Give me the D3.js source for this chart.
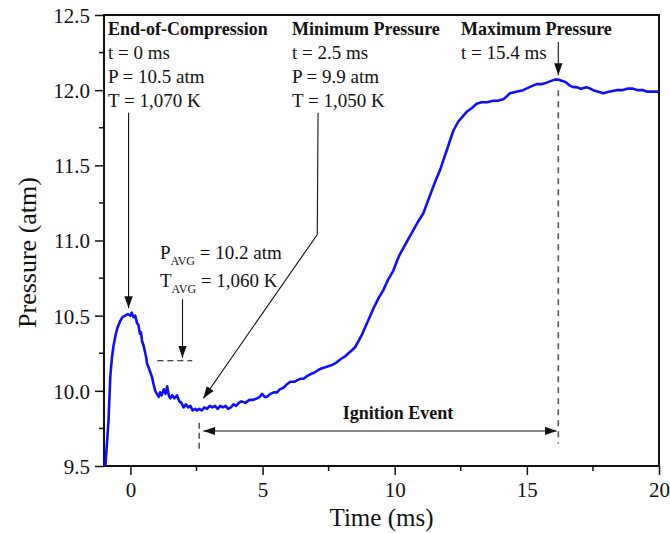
<!DOCTYPE html>
<html>
<head>
<meta charset="utf-8">
<script src="https://cdn.jsdelivr.net/npm/d3@7"></script>
<style>
  body { margin: 0; background: #fff; }
  text { font-family: "Liberation Serif", "Times New Roman", serif; fill: #111; }
</style>
</head>
<body>
<script>
// pressure trace
var time = [-0.95, -0.9, -0.83, -0.76, -0.7, -0.64, -0.55, -0.49, -0.4, -0.3, -0.2, -0.1, 0.0, 0.05, 0.12, 0.18,
  0.25, 0.3, 0.36, 0.4, 0.44, 0.5, 0.55, 0.6, 0.63, 0.7, 0.76, 0.82, 0.88, 0.94, 1.0, 1.07, 1.12, 1.18, 1.26, 1.33,
  1.39, 1.45, 1.51, 1.58, 1.66, 1.76, 1.85, 1.93, 2.01, 2.1, 2.18, 2.27, 2.35, 2.45, 2.52, 2.6, 2.7, 2.8, 2.9, 3.0,
  3.1, 3.2, 3.3, 3.4, 3.5, 3.6, 3.7, 3.8, 3.9, 4.0, 4.1, 4.2, 4.35, 4.5, 4.65, 4.79, 4.9, 4.98, 5.08, 5.17, 5.3,
  5.42, 5.55, 5.65, 5.79, 5.9, 6.05, 6.2, 6.3, 6.42, 6.55, 6.7, 6.8, 6.95, 7.12, 7.25, 7.43, 7.6, 7.81, 7.95, 8.13,
  8.25, 8.38, 8.5, 8.63, 8.75, 8.85, 9.0, 9.2, 9.4, 9.57, 9.75, 9.95, 10.1, 10.2, 10.45, 10.71, 10.9, 11.08, 11.25,
  11.4, 11.55, 11.72, 11.85, 11.97, 12.1, 12.22, 12.4, 12.6, 12.75, 12.91, 13.1, 13.29, 13.5, 13.73, 13.9, 14.11,
  14.25, 14.36, 14.6, 14.86, 15.1, 15.37, 15.55, 15.75, 15.9, 16.06, 16.2, 16.38, 16.5, 16.63, 16.75, 16.88, 17.05,
  17.26, 17.4, 17.51, 17.7, 17.89, 18.1, 18.39, 18.6, 18.8, 19.02, 19.2, 19.4, 19.55, 19.65, 19.8, 20.0];
var pressure = [9.49, 9.62, 9.80, 10.10, 10.22, 10.30, 10.38, 10.42, 10.46, 10.49, 10.50, 10.51, 10.50, 10.52, 10.49, 10.50,
  10.45, 10.44, 10.38, 10.39, 10.33, 10.30, 10.26, 10.22, 10.18, 10.15, 10.12, 10.09, 10.04, 10.00, 9.98, 9.96, 9.99, 9.97, 10.01, 9.98,
  10.03, 9.97, 9.95, 9.97, 9.95, 9.97, 9.93, 9.92, 9.89, 9.91, 9.89, 9.90, 9.87, 9.88, 9.87, 9.88, 9.87, 9.89, 9.88, 9.90,
  9.89, 9.90, 9.88, 9.90, 9.89, 9.90, 9.88, 9.89, 9.91, 9.90, 9.92, 9.93, 9.92, 9.94, 9.94, 9.95, 9.96, 9.98, 9.96, 9.96, 9.98,
  9.99, 9.99, 10.01, 10.02, 10.04, 10.06, 10.06, 10.07, 10.08, 10.08, 10.10, 10.11, 10.12, 10.14, 10.15, 10.16, 10.17, 10.19, 10.21, 10.23,
  10.25, 10.27, 10.29, 10.33, 10.37, 10.41, 10.47, 10.55, 10.62, 10.67, 10.74, 10.80, 10.87, 10.91, 10.99, 11.07, 11.13, 11.18, 11.26,
  11.33, 11.40, 11.47, 11.54, 11.60, 11.67, 11.73, 11.79, 11.83, 11.86, 11.88, 11.91, 11.92, 11.92, 11.93, 11.93, 11.94,
  11.96, 11.98, 11.99, 12.00, 12.02, 12.04, 12.04, 12.05, 12.06, 12.07, 12.07, 12.06, 12.05, 12.03, 12.02, 12.02, 12.01,
  12.02, 12.01, 12.00, 11.99, 11.98, 11.99, 12.00, 12.00, 12.01, 12.01, 12.00, 12.00, 11.99, 11.99, 11.99, 11.99];

var xTicks = [0, 5, 10, 15, 20];
var xMinor = [2.5, 7.5, 12.5, 17.5];
var yTicks = [9.5, 10.0, 10.5, 11.0, 11.5, 12.0, 12.5];
var yMinor = [9.75, 10.25, 10.75, 11.25, 11.75, 12.25];

var eocLines = ["t = 0 ms", "P = 10.5 atm", "T = 1,070 K"];
var minLines = ["t = 2.5 ms", "P = 9.9 atm", "T = 1,050 K"];
var maxLines = ["t = 15.4 ms"];

var width = 670, height = 533;
var margin = { top: 15, right: 11, bottom: 67, left: 104 };

var svg = d3.select("body")
    .append("svg")
    .attr("width", width)
    .attr("height", height);

var x = d3.scaleLinear().domain([-1, 20]).range([margin.left, width - margin.right]);
var y = d3.scaleLinear().domain([9.5, 12.5]).range([height - margin.bottom, margin.top]);

svg.append("defs").append("marker")
    .attr("id", "head")
    .attr("viewBox", "0 0 10 10")
    .attr("refX", 10).attr("refY", 5)
    .attr("markerWidth", 12).attr("markerHeight", 12)
    .attr("markerUnits", "userSpaceOnUse")
    .attr("orient", "auto-start-reverse")
    .append("path")
    .attr("d", "M0,1.5 L10,5 L0,8.5 Z")
    .attr("fill", "#111");

// axes
var xAxis = svg.append("g")
    .attr("transform", "translate(0," + y(9.5) + ")")
    .call(d3.axisBottom(x).tickValues(xTicks).tickFormat(d3.format("d")).tickSize(9).tickSizeOuter(0));
xAxis.append("g").selectAll("line")
    .data(xMinor)
    .enter().append("line")
    .attr("x1", function (d) { return x(d); }).attr("x2", function (d) { return x(d); })
    .attr("y1", 0).attr("y2", 5)
    .attr("stroke", "#111").attr("stroke-width", 1.5);

var yAxis = svg.append("g")
    .attr("transform", "translate(" + x(-1) + ",0)")
    .call(d3.axisLeft(y).tickValues(yTicks).tickFormat(d3.format(".1f")).tickSize(9).tickSizeOuter(0));
yAxis.append("g").selectAll("line")
    .data(yMinor)
    .enter().append("line")
    .attr("y1", function (d) { return y(d); }).attr("y2", function (d) { return y(d); })
    .attr("x1", 0).attr("x2", -5)
    .attr("stroke", "#111").attr("stroke-width", 1.5);

[xAxis, yAxis].forEach(function (a) {
    a.select(".domain").remove();
    a.selectAll(".tick line").attr("stroke", "#111").attr("stroke-width", 1.5);
    a.selectAll(".tick text").style("font-size", "21px").style("font-family", "Liberation Serif").attr("fill", "#111");
});
xAxis.selectAll(".tick text").attr("y", 16).attr("dy", "0.71em");
yAxis.selectAll(".tick text").attr("x", -14).attr("dy", "0.35em");

// frame
svg.append("rect")
    .attr("x", x(-1)).attr("y", y(12.5))
    .attr("width", x(20) - x(-1)).attr("height", y(9.5) - y(12.5))
    .attr("fill", "none").attr("stroke", "#111").attr("stroke-width", 2);

// axis titles
svg.append("text")
    .attr("x", (x(-1) + x(20)) / 2).attr("y", 526)
    .attr("text-anchor", "middle")
    .style("font-size", "25px")
    .text("Time (ms)");
svg.append("text")
    .attr("transform", "translate(36," + (y(11) + 12) + ") rotate(-90)")
    .attr("text-anchor", "middle")
    .style("font-size", "26px")
    .text("Pressure (atm)");

// clip for the trace
svg.append("clipPath").attr("id", "plot")
    .append("rect")
    .attr("x", x(-1)).attr("y", y(12.5))
    .attr("width", x(20) - x(-1)).attr("height", y(9.5) - y(12.5));

var line = d3.line()
    .x(function (d, i) { return x(time[i]); })
    .y(function (d) { return y(d); });

svg.append("path")
    .datum(pressure)
    .attr("clip-path", "url(#plot)")
    .attr("d", line)
    .attr("fill", "none")
    .attr("stroke", "#1010f5")
    .attr("stroke-width", 2.6)
    .attr("stroke-linejoin", "round");

// annotations
function label(x0, y0, lines, bold) {
    var g = svg.append("g");
    g.append("text")
        .attr("x", x0).attr("y", y0)
        .style("font-size", "18px").style("font-weight", "bold")
        .text(bold);
    lines.forEach(function (t, i) {
        g.append("text")
            .attr("x", x0).attr("y", y0 + 24 * (i + 1))
            .style("font-size", "19px")
            .text(t);
    });
}
label(108, 35, eocLines, "End-of-Compression");
label(292, 35, minLines, "Minimum Pressure");
label(461, 35, maxLines, "Maximum Pressure");

function arrow(pts) {
    svg.append("path")
        .attr("d", d3.line()(pts.map(function (p) { return [x(p[0]), y(p[1])]; })))
        .attr("fill", "none")
        .attr("stroke", "#111")
        .attr("stroke-width", 1.1)
        .attr("marker-end", "url(#head)");
}
// end of compression
arrow([[-0.07, 11.85], [-0.07, 10.55]]);
// minimum pressure
arrow([[7.1, 11.85], [7.07, 11.04], [2.76, 9.95]]);
// maximum pressure
arrow([[16.19, 12.32], [16.19, 12.1]]);
svg.append("line")
    .attr("x1", x(16.19)).attr("x2", x(16.19))
    .attr("y1", y(12.0)).attr("y2", y(9.65))
    .attr("stroke", "#555").attr("stroke-width", 1.6).attr("stroke-dasharray", "6,5");

// average
svg.append("text").attr("x", 160).attr("y", 259).style("font-size", "19px")
    .html('P<tspan dy="6" style="font-size:12px">AVG</tspan><tspan dy="-6"> = 10.2 atm</tspan>');
svg.append("text").attr("x", 160).attr("y", 287).style("font-size", "19px")
    .html('T<tspan dy="6" style="font-size:12px">AVG</tspan><tspan dy="-6"> = 1,060 K</tspan>');
arrow([[1.97, 10.61], [1.97, 10.22]]);
svg.append("line")
    .attr("x1", x(1.02)).attr("x2", x(2.34))
    .attr("y1", y(10.2)).attr("y2", y(10.2))
    .attr("stroke", "#111").attr("stroke-width", 1.1).attr("stroke-dasharray", "6,4");

// ignition event
svg.append("line")
    .attr("x1", x(2.6)).attr("x2", x(2.6))
    .attr("y1", y(9.787)).attr("y2", y(9.613))
    .attr("stroke", "#111").attr("stroke-width", 1.1).attr("stroke-dasharray", "6,4");
svg.append("path")
    .attr("d", d3.line()([[x(2.76), y(9.733)], [x(16.13), y(9.733)]]))
    .attr("stroke", "#111").attr("stroke-width", 1.1)
    .attr("marker-start", "url(#head)").attr("marker-end", "url(#head)");
svg.append("text")
    .attr("x", 398).attr("y", 419)
    .attr("text-anchor", "middle")
    .style("font-size", "18px").style("font-weight", "bold")
    .text("Ignition Event");
</script>
</body>
</html>
